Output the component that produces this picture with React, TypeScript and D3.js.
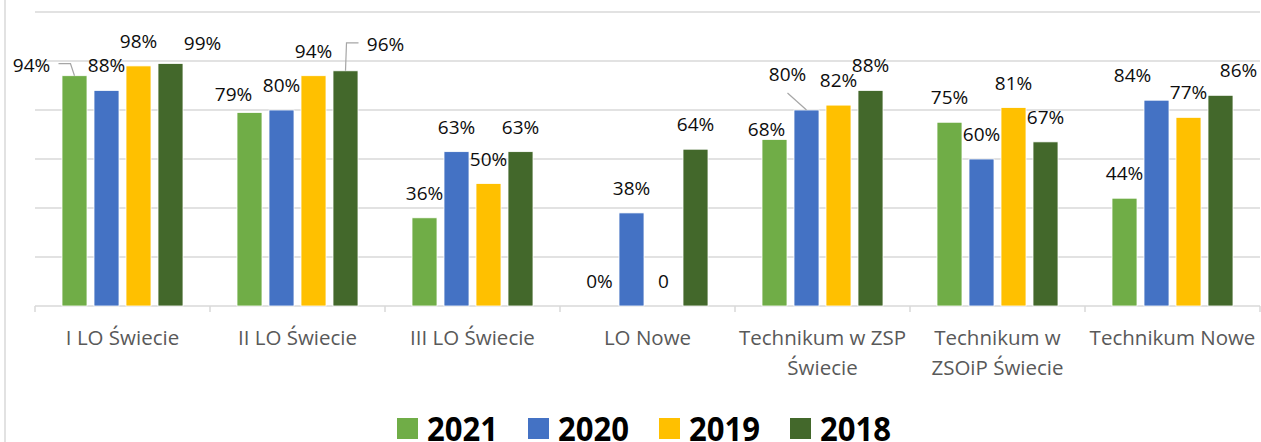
import React from "react";
import * as d3 from "d3";

const categories = [
  "I LO Świecie",
  "II LO Świecie",
  "III LO Świecie",
  "LO Nowe",
  "Technikum w ZSP Świecie",
  "Technikum w ZSOiP Świecie",
  "Technikum Nowe",
];
// wrapped category labels as they appear under the axis
const categoryLines = [
  ["I LO Świecie"],
  ["II LO Świecie"],
  ["III LO Świecie"],
  ["LO Nowe"],
  ["Technikum w ZSP", "Świecie"],
  ["Technikum w", "ZSOiP Świecie"],
  ["Technikum Nowe"],
];
const seriesNames = ["2021", "2020", "2019", "2018"];
const values2021 = [94, 79, 36, 0, 68, 75, 44];
const values2020 = [88, 80, 63, 38, 80, 60, 84];
const values2019 = [98, 94, 50, 0, 82, 81, 77];
const values2018 = [99, 96, 63, 64, 88, 67, 86];
const seriesValues = [values2021, values2020, values2019, values2018];
// the 2019 "LO Nowe" cell is shown as plain 0 in the source
const plainLabels = ["2019|LO Nowe"];

const colors = ["#70AD47", "#4472C4", "#FFC000", "#43682B"];

// manual label moves (dx, dy) as in the original sheet, key "series|category"
const labelNudge: Record<string, [number, number]> = {
  "2021|I LO Świecie": [-43, 14],
  "2018|I LO Świecie": [32, 5],
  "2021|II LO Świecie": [-16, 7],
  "2018|II LO Świecie": [40, -2],
  "2021|Technikum w ZSP Świecie": [-8, 15],
  "2020|Technikum w ZSP Świecie": [-19, -11],
  "2020|Technikum Nowe": [-24, 0],
  "2018|Technikum Nowe": [18, 0],
};
// labels that have a leader line back to the bar
const leaders: Record<string, "side" | "below"> = {
  "2021|I LO Świecie": "side",
  "2018|II LO Świecie": "side",
  "2020|Technikum w ZSP Świecie": "below",
};

const W = 1261;
const H = 442;
const grid = "#D9D9D9";

export default function App() {
  const x0 = d3.scaleBand<string>().domain(categories).range([35, 1260]);
  const x1 = d3
    .scaleBand<string>()
    .domain(seriesNames)
    .range([0, x0.bandwidth()])
    .paddingInner(7 / 32)
    .paddingOuter(0.84375);
  const y = d3.scaleLinear().domain([0, 120]).range([306, 12]);
  const ticks = y.ticks(6);

  const labelFont = "'Open Sans', sans-serif";

  const bars: React.ReactNode[] = [];
  const labels: React.ReactNode[] = [];
  seriesNames.forEach((s, si) => {
    categories.forEach((c, ci) => {
      const v = seriesValues[si][ci];
      const key = `${s}|${c}`;
      const bx = (x0(c) ?? 0) + (x1(s) ?? 0);
      const bw = x1.bandwidth();
      const top = y(v);
      const cx = bx + bw / 2;
      bars.push(
        <rect
          key={"b" + key}
          x={bx}
          y={top}
          width={bw}
          height={y(0) - top}
          fill={colors[si]}
          stroke="#ffffff"
          strokeWidth={0.8}
        />
      );
      const [dx, dy] = labelNudge[key] ?? [0, 0];
      const lx = cx + dx;
      const ly = top - 18 + dy;
      const text = plainLabels.includes(key) ? String(v) : `${v}%`;
      labels.push(
        <text
          key={"t" + key}
          x={lx}
          y={ly}
          textAnchor="middle"
          fontFamily={labelFont}
          fontSize={19}
          fill="#0d0d0d"
        >
          {text}
        </text>
      );
      const lead = leaders[key];
      if (lead === "side") {
        const half = 18;
        const dir = dx < 0 ? 1 : -1;
        const sx = lx + dir * (half + 9);
        const sy = ly - 8;
        const hx = sx + dir * 12;
        labels.push(
          <polyline
            key={"l" + key}
            points={`${sx},${sy} ${hx},${sy} ${cx},${top}`}
            fill="none"
            stroke="#A6A6A6"
            strokeWidth={1.2}
          />
        );
      } else if (lead === "below") {
        labels.push(
          <line
            key={"l" + key}
            x1={lx}
            y1={ly + 12}
            x2={cx}
            y2={top}
            stroke="#A6A6A6"
            strokeWidth={1.2}
          />
        );
      }
    });
  });

  const legendX = [397, 528, 659, 790];

  return (
    <div style={{ position: "fixed", left: 0, top: 0 }}>
      <svg width={W} height={H} style={{ display: "block", background: "#fff" }}>
        <line x1={5} x2={5} y1={0} y2={H} stroke={grid} strokeWidth={1.5} />
        {ticks.map((t) => (
          <line
            key={"g" + t}
            x1={35}
            x2={1260}
            y1={y(t)}
            y2={y(t)}
            stroke={grid}
            strokeWidth={1.5}
          />
        ))}
        {[...categories.map((c) => x0(c) ?? 0), 1260].map((tx, i) => (
          <line
            key={"tk" + i}
            x1={tx}
            x2={tx}
            y1={y(0)}
            y2={y(0) + 6}
            stroke={grid}
            strokeWidth={1.5}
          />
        ))}
        {bars}
        {labels}
        {categories.map((c, ci) => (
          <text
            key={"c" + c}
            x={(x0(c) ?? 0) + x0.bandwidth() / 2}
            y={345}
            textAnchor="middle"
            fontFamily={labelFont}
            fontSize={20.5}
            fill="#595959"
          >
            {categoryLines[ci].map((ln, li) => (
              <tspan key={li} x={(x0(c) ?? 0) + x0.bandwidth() / 2} dy={li === 0 ? 0 : 30}>
                {ln}
              </tspan>
            ))}
          </text>
        ))}
        {seriesNames.map((s, si) => (
          <g key={"lg" + s}>
            <rect x={legendX[si]} y={418} width={21} height={21} fill={colors[si]} />
            <text
              x={legendX[si] + 30}
              y={441}
              fontFamily={labelFont}
              fontWeight={700}
              fontSize={34}
              textLength={71}
              lengthAdjust="spacingAndGlyphs"
              fill="#000"
            >
              {s}
            </text>
          </g>
        ))}
      </svg>
    </div>
  );
}
